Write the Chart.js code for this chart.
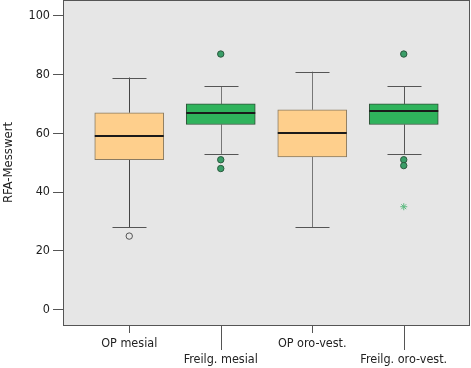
<!DOCTYPE html>
<html>
<head>
<meta charset="utf-8">
<script src="https://cdn.jsdelivr.net/npm/chart.js@4/dist/chart.umd.min.js"></script>
<style>
  html, body { margin: 0; padding: 0; background: #fff; }
  canvas { display: block; }
</style>
</head>
<body>
<canvas id="boxChart" width="471" height="368"></canvas>
<script>
// ===== Data =====
const categories = ['OP mesial', 'Freilg. mesial', 'OP oro-vest.', 'Freilg. oro-vest.'];
const whiskerLow = [28, 53, 28, 53];
const q1 = [51, 63, 52, 63];
const median = [59, 67, 60, 67.5];
const q3 = [67, 70, 68, 70];
const whiskerHigh = [79, 76, 81, 76];
const outliers = [[25], [87, 51, 48], [], [87, 51, 49]];
const extremes = [[], [], [], [35]];
const yTicks = [0, 20, 40, 60, 80, 100];

// ===== Styles =====
const FONT = "'DejaVu Sans Condensed', 'Liberation Sans', sans-serif";
const boxFill = ['#FECF8C', '#2FB35C', '#FECF8C', '#2FB35C'];
const boxEdge = ['#8A7B62', '#2E5238', '#8A7B62', '#2E5238'];
const whiskerColor = ['#444', '#777', '#777', '#555'];
const axisColor = '#555';

// box plot whiskers, medians, frame
const boxPlotPlugin = {
  id: 'boxPlot',
  beforeDraw(chart) {
    const { ctx, chartArea: a } = chart;
    ctx.save();
    ctx.fillStyle = '#E6E6E6';
    ctx.fillRect(a.left, a.top, a.right - a.left, a.bottom - a.top);
    ctx.restore();
  },
  beforeDatasetsDraw(chart) {
    const { ctx, scales: { x, y } } = chart;
    ctx.save();
    ctx.lineWidth = 1;
    categories.forEach((c, i) => {
      const px = Math.round(x.getPixelForValue(i + 1)) + 0.5;
      const cap = 17;
      ctx.strokeStyle = whiskerColor[i];
      ctx.beginPath();
      ctx.moveTo(px, y.getPixelForValue(whiskerHigh[i]));
      ctx.lineTo(px, y.getPixelForValue(q3[i]));
      ctx.moveTo(px, y.getPixelForValue(q1[i]));
      ctx.lineTo(px, y.getPixelForValue(whiskerLow[i]));
      ctx.stroke();
      ctx.strokeStyle = '#555';
      ctx.beginPath();
      [whiskerHigh[i], whiskerLow[i]].forEach(v => {
        const py = Math.round(y.getPixelForValue(v)) + 0.5;
        ctx.moveTo(px - cap, py);
        ctx.lineTo(px + cap, py);
      });
      ctx.stroke();
    });
    ctx.restore();
  },
  afterDatasetsDraw(chart) {
    const { ctx, scales: { x, y } } = chart;
    const half = 34.5;
    ctx.save();
    ctx.strokeStyle = '#1a1a1a';
    ctx.lineWidth = 2;
    categories.forEach((c, i) => {
      const px = x.getPixelForValue(i + 1);
      const py = Math.round(y.getPixelForValue(median[i]));
      ctx.beginPath();
      ctx.moveTo(px - half, py);
      ctx.lineTo(px + half, py);
      ctx.stroke();
    });
    ctx.restore();
  },
  afterDraw(chart) {
    const { ctx, chartArea: a, scales: { x } } = chart;
    ctx.save();
    ctx.strokeStyle = axisColor;
    ctx.lineWidth = 1;
    ctx.strokeRect(a.left + 0.5, a.top + 0.5, a.right - a.left - 1, a.bottom - a.top);
    // longer tick marks under the staggered labels
    ctx.beginPath();
    categories.forEach((c, i) => {
      if (i % 2 === 1) {
        const px = Math.round(x.getPixelForValue(i + 1)) + 0.5;
        ctx.moveTo(px, a.bottom);
        ctx.lineTo(px, a.bottom + 25);
      }
    });
    ctx.stroke();
    ctx.restore();
  }
};

const boxData = categories.map((c, i) => ({ x: i + 1, y: [q1[i], q3[i]] }));
const outlierData = [];
outliers.forEach((list, i) => list.forEach(v => outlierData.push({ x: i + 1, y: v })));
const extremeData = [];
extremes.forEach((list, i) => list.forEach(v => extremeData.push({ x: i + 1, y: v })));

new Chart(document.getElementById('boxChart'), {
  type: 'bar',
  data: {
    datasets: [
      {
        type: 'line',
        data: outlierData,
        showLine: false,
        pointStyle: 'circle',
        pointRadius: 3.2,
        pointBorderWidth: 1,
        pointBackgroundColor: outlierData.map(p => p.x === 1 ? '#E6E6E6' : '#3A9E68'),
        pointBorderColor: outlierData.map(p => p.x === 1 ? '#555' : '#2B5A3E'),
        order: 0
      },
      {
        type: 'line',
        data: extremeData,
        showLine: false,
        pointStyle: 'star',
        pointRadius: 3.5,
        pointBorderWidth: 1,
        pointBorderColor: '#5DBA80',
        order: 0
      },
      {
        data: boxData,
        backgroundColor: boxFill,
        borderColor: boxEdge,
        borderWidth: 1,
        borderSkipped: false,
        barThickness: 69,
        order: 1
      }
    ]
  },
  options: {
    responsive: false,
    animation: false,
    layout: { autoPadding: false, padding: { top: 0, right: 1, left: 0, bottom: 0 } },
    plugins: {
      legend: { display: false },
      tooltip: { enabled: false }
    },
    scales: {
      x: {
        type: 'linear',
        min: 0.276,
        max: 4.724,
        offset: false,
        afterBuildTicks: s => { s.ticks = categories.map((c, i) => ({ value: i + 1 })); },
        afterFit: s => { s.height = 43; s.paddingLeft = 0; s.paddingRight = 0; },
        border: { display: false },
        grid: {
          offset: false,
          drawOnChartArea: false,
          drawTicks: true,
          tickLength: 8,
          color: axisColor,
          tickColor: c => (c.index % 2 === 1 ? 'rgba(0,0,0,0)' : axisColor)
        },
        ticks: {
          padding: 3,
          maxRotation: 0,
          autoSkip: false,
          color: '#222',
          font: { family: FONT, size: 12.5, lineHeight: 1.28 },
          callback: v => {
            const i = Math.round(v) - 1;
            return i % 2 === 1 ? ['', categories[i]] : categories[i];
          }
        }
      },
      y: {
        min: -5.28,
        max: 105.4,
        afterBuildTicks: s => { s.ticks = yTicks.map(v => ({ value: v })); },
        afterFit: s => { s.width = 63; s.paddingTop = 0; s.paddingBottom = 0; },
        border: { display: false },
        grid: { drawOnChartArea: false, drawTicks: true, tickLength: 10, color: axisColor },
        ticks: {
          padding: 3,
          color: '#222',
          font: { family: FONT, size: 12.5 }
        },
        title: {
          display: true,
          text: 'RFA-Messwert',
          color: '#222',
          padding: 0,
          font: { family: FONT, size: 13, lineHeight: 1.4 }
        }
      }
    }
  },
  plugins: [boxPlotPlugin]
});
</script>
</body>
</html>
